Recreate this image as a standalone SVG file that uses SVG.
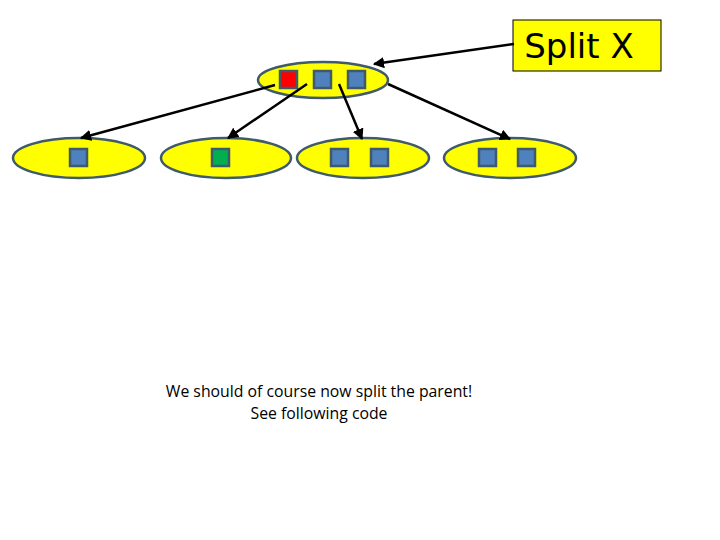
<svg xmlns="http://www.w3.org/2000/svg" width="720" height="540" viewBox="0 0 720 540">
<defs>
<style>
.node ellipse{fill:#ffff00;stroke:#3f5a6b;stroke-width:2.5}
.key{stroke:#3f5a6b;stroke-width:2.5;fill:#4f81bd}
.conn line{stroke:#000;stroke-width:2.5;marker-end:url(#ah)}
.note{font-family:"Open Sans","Liberation Sans",sans-serif;font-size:15.8px;fill:#000;text-anchor:middle}
</style>
<marker id="ah" viewBox="0 0 10 10" refX="9" refY="5" markerWidth="4.5" markerHeight="4.5" orient="auto" markerUnits="strokeWidth">
<path d="M0,0 L10,5 L0,10 z" fill="#000"/>
</marker>
</defs>
<rect width="720" height="540" fill="#fff"/>
<g id="root" class="node">
<ellipse cx="323" cy="80" rx="65" ry="18"/>
<rect class="key" x="280" y="71" width="17" height="17" style="fill:#ff0000"/>
<rect class="key" x="314" y="71" width="17" height="17"/>
<rect class="key" x="348" y="71" width="17" height="17"/>
</g>
<g id="leaf1" class="node">
<ellipse cx="79" cy="158" rx="66" ry="20"/>
<rect class="key" x="70" y="149" width="17" height="17"/>
</g>
<g id="leaf2" class="node">
<ellipse cx="226" cy="158" rx="65" ry="20"/>
<rect class="key" x="212" y="149" width="17" height="17" style="fill:#00b050"/>
</g>
<g id="leaf3" class="node">
<ellipse cx="363" cy="158" rx="66" ry="20"/>
<rect class="key" x="331" y="149" width="17" height="17"/>
<rect class="key" x="371" y="149" width="17" height="17"/>
</g>
<g id="leaf4" class="node">
<ellipse cx="510" cy="158" rx="66" ry="20"/>
<rect class="key" x="479" y="149" width="17" height="17"/>
<rect class="key" x="518" y="149" width="17" height="17"/>
</g>
<g id="splitx">
<rect x="513" y="20" width="148" height="51" fill="#ffff00" stroke="#000" stroke-width="1"/>
<text x="579" y="58" font-family="'DejaVu Sans',sans-serif" font-size="34" text-anchor="middle" fill="#000">Split X</text>
</g>
<g id="connectors" class="conn">
<line x1="275" y1="85" x2="81" y2="138"/>
<line x1="307" y1="84" x2="228" y2="138"/>
<line x1="339" y1="84" x2="362" y2="139"/>
<line x1="388" y1="84" x2="510" y2="139"/>
<line x1="514" y1="44" x2="374" y2="64"/>
</g>
<text class="note" x="319" y="397">We should of course now split the parent!</text>
<text class="note" x="319" y="419">See following code</text>
</svg>
